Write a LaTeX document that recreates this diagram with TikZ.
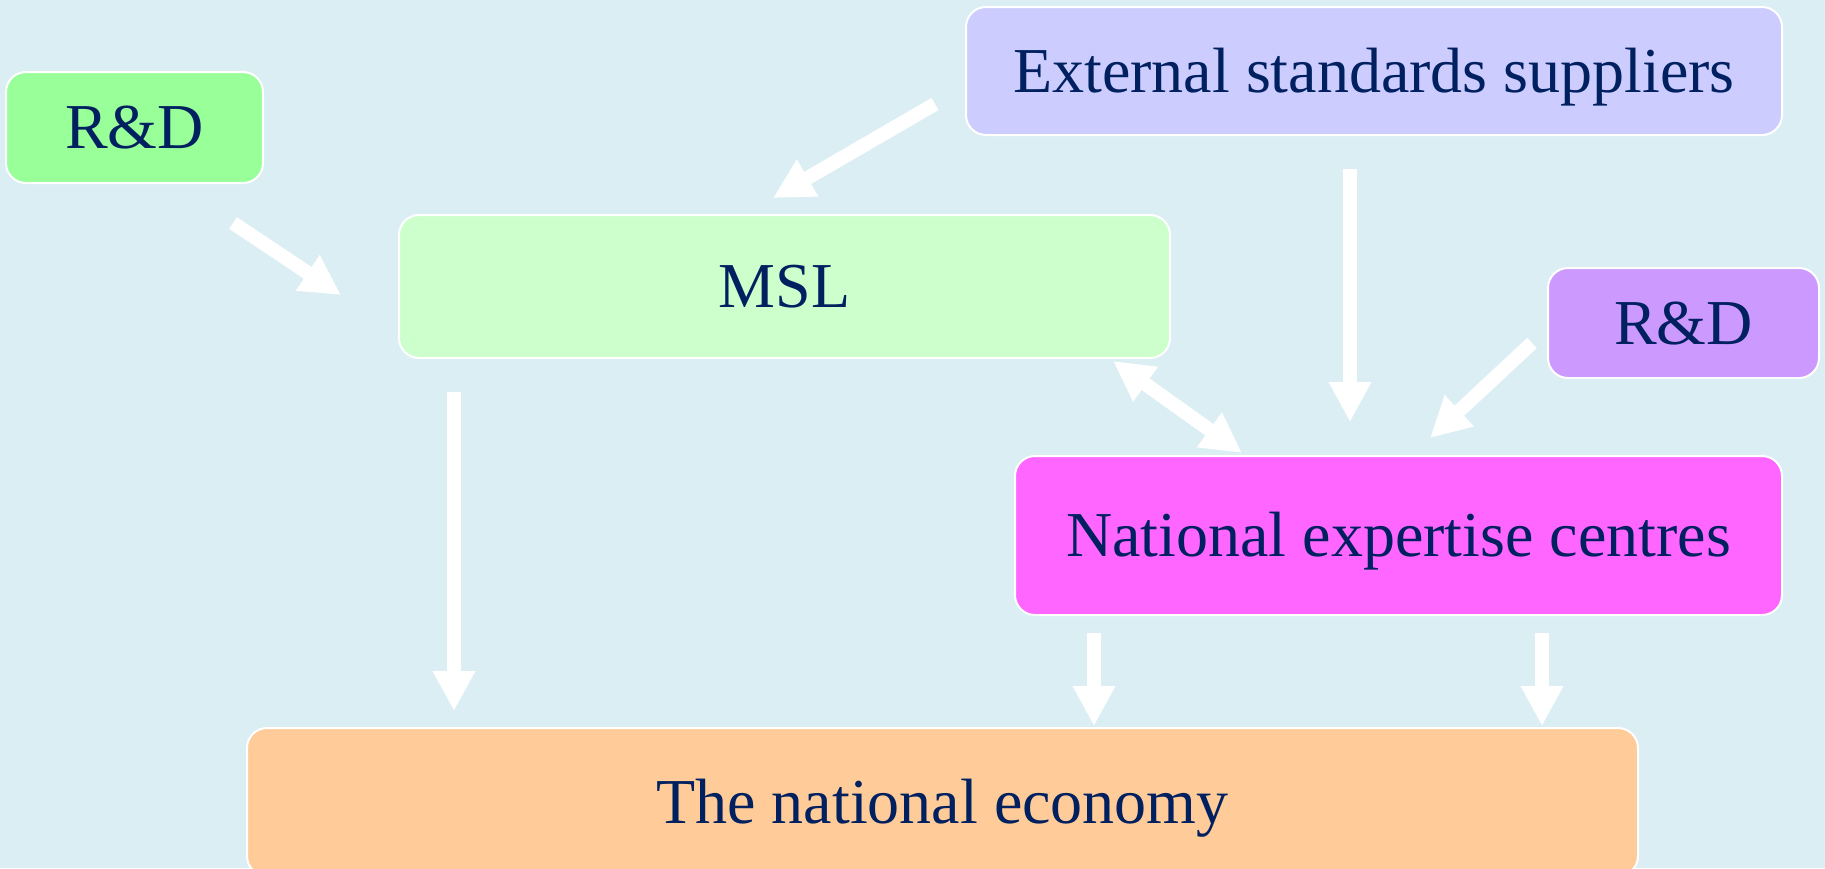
\documentclass[tikz,border=0pt]{standalone}
\usepackage{fontspec}
\setmainfont{Liberation Serif}
\usetikzlibrary{arrows.meta,calc}

\definecolor{bgblue}{HTML}{DBEEF4}
\definecolor{navy}{HTML}{002060}
\definecolor{rdgreen}{HTML}{99FF99}
\definecolor{extblue}{HTML}{CCCCFF}
\definecolor{mslgreen}{HTML}{CCFFCC}
\definecolor{rdviolet}{HTML}{CC99FF}
\definecolor{necpink}{HTML}{FF66FF}
\definecolor{ecoorange}{HTML}{FFCC99}

\tikzset{
  box/.style={draw=white, line width=1pt, rounded corners=10pt,
    text=navy, font=\fontsize{32}{38}\selectfont, inner sep=0pt,
    text height=21.2pt, text depth=0pt, align=center},
  flow/.style={draw=white, line width=7pt,
    -{Triangle[width=20pt,length=20pt]}},
  twoway/.style={draw=white, line width=7pt,
    {Triangle[width=20pt,length=20pt]}-{Triangle[width=20pt,length=20pt]}}
}

\begin{document}
\begin{tikzpicture}[x=0.5pt,y=-0.5pt]
  \fill[bgblue] (0,0) rectangle (1825,868);
  \useasboundingbox (0,0) rectangle (1825,868);
  \clip (0,0) rectangle (1825,868);

  % boxes
  \node[box, fill=rdgreen, minimum width=128.5pt, minimum height=55.5pt]
    (rdl) at (134.5,127.5) {R\&D};
  \node[box, fill=extblue, minimum width=408pt, minimum height=64pt]
    (ext) at (1374,71) {External standards suppliers};
  \node[box, fill=mslgreen, minimum width=385.5pt, minimum height=71.5pt]
    (msl) at (784.5,286.5) {MSL};
  \node[box, fill=rdviolet, minimum width=135.5pt, minimum height=55pt]
    (rdr) at (1683.5,323) {R\&D};
  \node[box, fill=necpink, minimum width=383.5pt, minimum height=79.5pt]
    (nec) at (1398.5,535.5) {National expertise centres};
  \node[box, fill=ecoorange, minimum width=695.5pt, minimum height=74pt]
    (eco) at (942.5,802) {The national economy};

  % connectors
  \draw[flow] ($(rdl.south east)+(-31,39)$) -- ($(msl.west)+(-57,8.5)$);
  \draw[flow] ($(ext.west)+(-30,33)$) -- ($(msl.north)+(-11.5,-16)$);
  \draw[flow] ($(ext.south)+(-24,33)$) -- ($(nec.north)+(-48.5,-33)$);
  \draw[flow] ($(rdr.west)+(-15,20)$) -- ($(nec.north)+(31.5,-17)$);
  \draw[twoway] ($(msl.south east)+(-58,2)$) -- ($(nec.north west)+(228,-2)$);
  \draw[flow] ($(msl.south)+(-330.5,33)$) -- ($(eco.north)+(-488.5,-16)$);
  \draw[flow] ($(nec.south)+(-304.5,17)$) -- ($(eco.north)+(151.5,-1)$);
  \draw[flow] ($(nec.south)+(143.5,17)$) -- ($(eco.north)+(599.5,-1)$);
\end{tikzpicture}
\end{document}
